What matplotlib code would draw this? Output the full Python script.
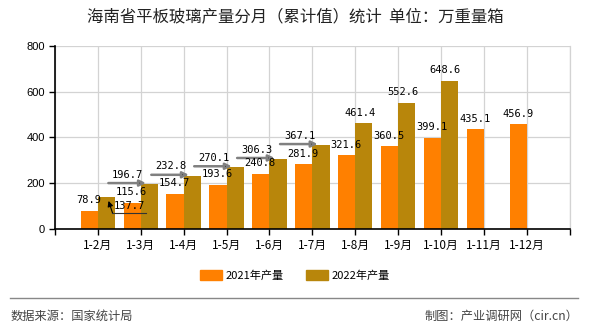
import matplotlib
matplotlib.use('Agg')
import matplotlib.pyplot as plt
from matplotlib.patches import Patch
from matplotlib.lines import Line2D
from matplotlib.transforms import ScaledTranslation

plt.rcParams['font.family'] = ['Noto Sans CJK SC', 'DejaVu Sans']

categories = ['1-2月', '1-3月', '1-4月', '1-5月', '1-6月', '1-7月',
              '1-8月', '1-9月', '1-10月', '1-11月', '1-12月']
prod_2021 = [78.9, 115.6, 154.7, 193.6, 240.8, 281.9, 321.6, 360.5, 399.1, 435.1, 456.9]
prod_2022 = [137.7, 196.7, 232.8, 270.1, 306.3, 367.1, 461.4, 552.6, 648.6]
yticks = [0, 200, 400, 600, 800]

c21 = '#ff8000'
c22 = '#b8860b'
w = 0.4

fig = plt.figure(figsize=(5.9, 3.3), dpi=100)
ax = fig.add_axes([0.093, 0.306, 0.873, 0.555])

x21 = range(len(prod_2021))
x22 = range(len(prod_2022))
ax.bar([i - w / 2 for i in x21], prod_2021, width=w, color=c21, zorder=2)
ax.bar([i + w / 2 for i in x22], prod_2022, width=w, color=c22, zorder=2)

ax.set_xlim(-1, len(categories))
ax.set_ylim(0, 800)
ax.set_yticks(yticks)
ax.set_yticklabels([str(v) for v in yticks], family='Liberation Sans', fontsize=8)
ax.set_xticks(range(-1, len(categories) + 1))
ax.set_xticklabels([''] + categories + [''], fontsize=8.5)
ax.tick_params(axis='both', length=4, width=1, colors='black', pad=3)
ax.grid(True, color='#d3d3d3', lw=0.9, zorder=0)
ax.axvline(len(categories), color='#d3d3d3', lw=0.9, zorder=0, clip_on=False)
for s in ['top', 'right']:
    ax.spines[s].set_visible(False)
for s in ['left', 'bottom']:
    ax.spines[s].set_linewidth(1.2)

lab = dict(family='DejaVu Sans Mono', fontsize=7.5, color='black', zorder=5)

# 2021 labels
for i, v in enumerate(prod_2021):
    ax.annotate(f'{v}', xy=(i - 0.22, v), xytext=(0, 4), textcoords='offset points',
                ha='center', va='bottom', **lab)

# 2022 labels: first ones pushed aside with arrows
for i, v in enumerate(prod_2022):
    if i == 0:
        ax.annotate(f'{v}', xy=(i + 0.25, v - 15), xytext=(15, -4), textcoords='offset points',
                    ha='center', va='center', **lab)
        ax.annotate('', xy=(i + 0.25, v - 15), xytext=(3, -9), textcoords='offset points',
                    arrowprops=dict(arrowstyle='-|>', color='black', lw=0.8,
                                    mutation_scale=8, shrinkA=0, shrinkB=0), zorder=4)
        shift = ax.transData + ScaledTranslation(0, -9 / 72, fig.dpi_scale_trans)
        ax.plot([i + 0.34, i + 1.12], [v - 15, v - 15], color='#333333', lw=0.8,
                transform=shift, zorder=4)
    elif i < 6:
        ax.annotate('', xy=(i + 0.12, v + 4), xytext=(-27, 0), textcoords='offset points',
                    arrowprops=dict(arrowstyle='-|>', fc='black', ec='#808080', lw=1.8,
                                    mutation_scale=9, shrinkA=0, shrinkB=0), zorder=4)
        ax.annotate(f'{v}', xy=(i - 0.3, v + 4), xytext=(0, 6), textcoords='offset points',
                    ha='center', va='center', **lab)
    else:
        ax.annotate(f'{v}', xy=(i + 0.1, v), xytext=(0, 4), textcoords='offset points',
                    ha='center', va='bottom', **lab)

fig.text(0.5, 0.948, '海南省平板玻璃产量分月（累计值）统计  单位：万重量箱',
         ha='center', va='center', fontsize=11.8, color='#222222')

handles = [Patch(color=c21), Patch(color=c22)]
fig.legend(handles, ['2021年产量', '2022年产量'], loc='center', bbox_to_anchor=(0.5, 0.165),
           ncol=2, frameon=False, fontsize=8, handlelength=2.0, handleheight=0.9,
           columnspacing=2.0, handletextpad=0.3)

fig.add_artist(Line2D([0.017, 0.98], [0.097, 0.097], color='#888888', lw=1.0))
fig.text(0.017, 0.042, '数据来源：国家统计局', ha='left', va='center', fontsize=8.8, color='#444444')
fig.text(0.98, 0.042, '制图：产业调研网（cir.cn）', ha='right', va='center', fontsize=8.8, color='#444444')

fig.savefig('out.png', dpi=100)
